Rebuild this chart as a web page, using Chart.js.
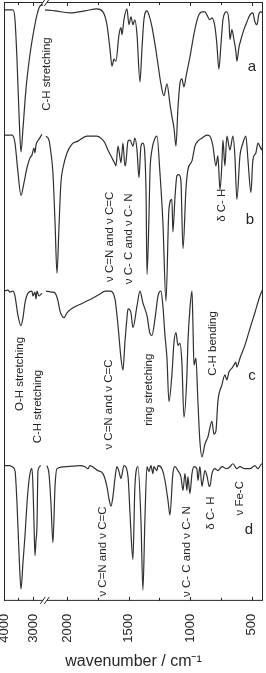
<!DOCTYPE html>
<html>
<head>
<meta charset="utf-8">
<script src="https://cdn.jsdelivr.net/npm/chart.js@4.4.1/dist/chart.umd.min.js"></script>
<style>
  html, body { margin: 0; padding: 0; background: #fff; }
  canvas { display: block; }
</style>
</head>
<body>
<canvas id="myChart" width="266" height="673"></canvas>
<script>
// IR spectra a-d, wavenumber (cm-1) and offset transmittance (a.u.)
const wnA = [4000, 3690, 3621, 3552, 3483, 3414, 3345, 3241, 3103, 2966, 2862, 2759, 2655,
  2178, 2097, 1976, 1854, 1757, 1708, 1676, 1651, 1635, 1619, 1603, 1578, 1562, 1554, 1538, 1514, 1497, 1481, 1465, 1449,
  1432, 1408, 1392, 1376, 1351, 1335, 1311, 1286, 1262, 1238, 1214, 1189, 1165, 1149, 1132, 1116, 1100, 1084, 1068, 1051,
  1035, 1019, 1003, 978, 954, 930, 905, 881, 865, 841, 824, 800, 784, 768, 751, 735, 719, 703, 686, 678, 662, 646, 630,
  622, 605, 589, 565, 540, 516, 492, 476, 459, 443, 427, 411];
const trA = [59.9, 59.9, 58.9, 54.9, 49.4, 45.5, 47.9, 51.9, 55.4, 57.9, 59.4, 60.3, 60.4,
  59.9, 59.8, 59.6, 59.8, 60.0, 59.7, 58.4, 55.9, 54.2, 54.9, 54.7, 57.4, 58.1, 57.4, 58.9, 60.0, 58.4, 59.2, 58.4, 58.9,
  57.4, 52.6, 55.9, 58.9, 59.8, 59.4, 58.2, 56.4, 54.4, 52.4, 51.2, 52.4, 50.4, 49.1, 47.9, 46.1, 49.9, 52.4, 52.9, 52.1,
  53.1, 54.1, 55.1, 56.9, 58.4, 59.4, 59.7, 59.7, 59.4, 58.9, 59.1, 58.2, 56.4, 53.9, 56.4, 58.9, 59.6, 59.7, 58.7, 56.9,
  57.9, 56.9, 55.7, 54.7, 56.1, 56.9, 57.9, 58.7, 59.4, 59.6, 58.7, 58.4, 59.5, 59.7, 59.6];

const wnB = [4000, 3724, 3621, 3517, 3414, 3310, 3207, 3103, 3034, 2966, 2931, 2897, 2793, 2690,
  2170, 2146, 2130, 2114, 2097, 2081, 2065, 2049, 2032, 2000, 1959, 1911, 1838, 1757, 1716, 1692, 1668, 1643, 1627, 1611,
  1603, 1586, 1570, 1562, 1546, 1530, 1522, 1505, 1489, 1465, 1449, 1432, 1416, 1400, 1384, 1359, 1351, 1335, 1327, 1311,
  1286, 1270, 1246, 1222, 1197, 1173, 1149, 1141, 1124, 1108, 1092, 1076, 1059, 1035, 1019, 986, 962, 938, 905, 865,
  841, 816, 792, 776, 759, 743, 735, 719, 703, 678, 654, 638, 622, 597, 573, 549, 532, 508, 492, 468, 451, 419, 411];
const trB = [47.2, 47.2, 46.4, 43.4, 41.1, 42.4, 43.9, 44.9, 45.2, 45.9, 45.4, 46.2, 46.8, 47.3,
  47.1, 46.7, 45.4, 43.4, 38.4, 33.2, 37.9, 42.4, 43.9, 45.4, 46.3, 46.6, 47.1, 47.1, 46.8, 46.4, 45.7, 45.1, 44.7, 44.3,
  44.1, 46.1, 44.9, 44.4, 46.4, 44.1, 44.4, 46.6, 46.7, 46.1, 46.9, 45.7, 42.9, 46.1, 46.4, 41.7, 33.1, 38.9, 43.4, 45.7,
  46.9, 47.1, 43.4, 38.4, 30.4, 39.7, 40.7, 37.4, 40.9, 43.1, 43.2, 42.6, 35.7, 41.7, 43.7, 44.6, 46.1, 46.6, 46.9, 47.2,
  47.1, 46.1, 44.1, 45.1, 41.7, 44.4, 46.7, 44.1, 47.1, 45.7, 47.1, 45.1, 40.7, 45.1, 46.4, 47.1, 44.7, 41.4, 44.7, 45.4,
  46.4, 45.7, 46.7];

const wnC = [4000, 3862, 3793, 3690, 3621, 3517, 3414, 3345, 3276, 3172, 3034, 3000, 2931, 2897, 2862, 2793, 2690,
  2170, 2122, 2097, 2073, 2057, 2041, 2024, 2000, 1951, 1870, 1789, 1732, 1692, 1651, 1611, 1586, 1562, 1546, 1530, 1514,
  1505, 1481, 1465, 1432, 1408, 1384, 1351, 1327, 1311, 1286, 1262, 1238, 1222, 1205, 1189, 1173, 1149, 1132, 1116, 1100,
  1084, 1068, 1051, 1027, 1019, 1003, 986, 978, 970, 954, 938, 922, 905, 881, 857, 824, 808, 792, 776, 743,
  719, 703, 686, 662, 646, 630, 622, 597, 557, 516, 476, 435, 411];
const trC = [31.4, 31.5, 31.3, 31.4, 30.9, 28.9, 27.9, 28.7, 30.2, 31.2, 31.4, 30.9, 31.3, 30.6, 31.4, 30.9, 31.2,
  31.4, 31.3, 31.2, 30.4, 29.4, 28.9, 28.7, 29.2, 29.7, 30.2, 30.7, 31.1, 31.4, 31.4, 30.6, 27.9, 24.6, 23.4, 26.2, 28.6,
  29.6, 29.2, 27.7, 29.9, 31.4, 30.2, 28.9, 27.1, 26.9, 28.6, 30.9, 31.4, 29.9, 26.9, 24.6, 20.2, 22.9, 26.2, 27.2, 25.9,
  26.1, 24.2, 18.6, 22.9, 26.2, 29.6, 31.4, 27.9, 23.9, 24.6, 20.2, 16.2, 14.6, 15.9, 16.6, 18.2, 16.9, 17.2, 20.2, 21.9,
  22.9, 22.4, 23.2, 23.6, 23.9, 24.2, 23.7, 24.6, 25.9, 27.6, 29.2, 30.9, 31.6];

const wnD = [4000, 3793, 3724, 3621, 3552, 3483, 3414, 3345, 3276, 3207, 3138, 3069, 3034, 3000, 2966, 2931, 2897, 2862, 2828, 2724,
  2162, 2146, 2130, 2114, 2097, 2081, 2000, 1895, 1854, 1830, 1814, 1749, 1708, 1676, 1660, 1643, 1627, 1611, 1595, 1578,
  1562, 1538, 1505, 1489, 1481, 1465, 1449, 1424, 1400, 1384, 1368, 1351, 1335, 1319, 1303, 1295, 1270, 1262, 1230, 1205,
  1181, 1165, 1141, 1124, 1100, 1076, 1059, 1043, 1027, 1019, 1003, 986, 970, 946, 938, 922, 905, 897, 881, 865,
  849, 841, 824, 800, 776, 743, 703, 678, 654, 622, 597, 557, 516, 476, 451, 419, 411];
const trD = [13.7, 13.7, 13.6, 13.2, 9.9, 4.9, 1.2, 3.9, 6.6, 9.9, 12.2, 13.3, 13.4, 11.6, 7.9, 4.6, 6.1, 7.6, 13.2, 13.7,
  13.7, 12.9, 9.9, 5.9, 11.6, 13.4, 13.6, 13.7, 13.6, 13.4, 13.7, 13.2, 12.9, 11.6, 10.4, 9.6, 10.6, 12.4, 13.6, 13.1,
  12.4, 13.7, 12.6, 8.9, 6.9, 4.2, 11.6, 13.6, 8.2, 1.1, 8.2, 13.6, 13.1, 13.7, 12.9, 13.6, 13.2, 13.7, 13.4, 12.2,
  10.2, 8.7, 12.9, 13.6, 13.2, 12.6, 11.2, 12.9, 11.2, 12.6, 10.9, 12.9, 13.6, 13.4, 12.2, 13.6, 11.6, 12.1, 13.2, 12.7,
  11.7, 11.6, 12.9, 13.4, 13.2, 13.6, 13.4, 13.6, 13.9, 13.4, 13.6, 13.4, 13.4, 13.7, 13.4, 13.9, 13.8];

const tickWavenumbers = [4000, 3000, 2000, 1500, 1000, 500];
const tickLabels = ['4000', '3000', '2000', '1500', '1000', '500'];
const minorWavenumbers = [3500, 1750, 1250, 750];

// band assignments, placed at (wavenumber, transmittance)
const notes = [
  { text: 'C-H stretching', wn: 2162, t: 53.4 },
  { text: 'ν C=N and ν C=C', wn: 1651, t: 36.9 },
  { text: 'ν C- C and ν C- N', wn: 1497, t: 36.7 },
  { text: 'δ C- H', wn: 743, t: 40.1 },
  { text: 'O-H stretching', wn: 3448, t: 23.0 },
  { text: 'C-H stretching', wn: 2828, t: 19.7 },
  { text: 'ν C=N and ν C=C', wn: 1660, t: 19.9 },
  { text: 'ring stretching', wn: 1335, t: 21.4 },
  { text: 'C-H bending', wn: 816, t: 26.1 },
  { text: 'ν C=N and ν C=C', wn: 1708, t: 5.0 },
  { text: 'ν C- C and ν C- N', wn: 1027, t: 5.0 },
  { text: 'δ C- H', wn: 832, t: 8.9 },
  { text: 'ν Fe-C', wn: 597, t: 10.4 }
];
const letters = [
  { text: 'a', wn: 500, t: 54.1 },
  { text: 'b', wn: 516, t: 38.6 },
  { text: 'c', wn: 500, t: 22.8 },
  { text: 'd', wn: 524, t: 7.2 }
];

// broken wavenumber axis: 4000-2590 compressed, 2180-410 normal
const BREAK_HI = 2590, BREAK_LO = 2180;
function pos(w) {
  if (w >= BREAK_HI) return (4000 - w) * 0.029;
  return 63 + (2000 - w) * 0.12333;
}

function buildPoints(wn, t) {
  let pts = [];
  for (let i = 0; i < wn.length; i++) {
    if (i > 0 && wn[i - 1] >= BREAK_HI && wn[i] <= BREAK_LO) {
      pts.push({ x: pos(BREAK_HI), y: null });
    }
    pts.push({ x: pos(wn[i]), y: t[i] });
  }
  return pts;
}

const FONT = '"Liberation Sans", Arial, Helvetica, sans-serif';
const INK = '#262626';

const decorations = {
  id: 'decorations',
  afterDatasetsDraw(chart) {
    let ctx = chart.ctx;
    let area = chart.chartArea;
    let x = chart.scales.x;
    let y = chart.scales.y;
    ctx.save();

    ctx.strokeStyle = INK;
    ctx.lineWidth = 1;
    ctx.strokeRect(area.left + 0.5, area.top + 0.5, area.right - area.left - 1, area.bottom - area.top - 1);

    // inward tick marks on top and bottom
    function tick(w, len) {
      let px = Math.round(x.getPixelForValue(pos(w))) + 0.5;
      ctx.beginPath();
      ctx.moveTo(px, area.bottom);
      ctx.lineTo(px, area.bottom - len);
      ctx.moveTo(px, area.top);
      ctx.lineTo(px, area.top + len);
      ctx.stroke();
    }
    tickWavenumbers.forEach(w => tick(w, 4));
    minorWavenumbers.forEach(w => tick(w, 3));

    // axis break marks
    let bx = x.getPixelForValue((pos(BREAK_HI) + pos(BREAK_LO)) / 2);
    [area.top + 0.5, area.bottom - 0.5].forEach(by => {
      ctx.fillStyle = '#fff';
      ctx.fillRect(bx - 2, by - 1.5, 4, 3);
      ctx.beginPath();
      [-2, 2].forEach(off => {
        ctx.moveTo(bx + off - 2.5, by + 3.5);
        ctx.lineTo(bx + off + 2.5, by - 3.5);
      });
      ctx.stroke();
    });

    // rotated band labels
    ctx.fillStyle = INK;
    ctx.textAlign = 'center';
    ctx.textBaseline = 'middle';
    ctx.font = '11.5px ' + FONT;
    notes.forEach(n => {
      ctx.save();
      ctx.translate(x.getPixelForValue(pos(n.wn)), y.getPixelForValue(n.t));
      ctx.rotate(-Math.PI / 2);
      ctx.fillText(n.text, 0, 0);
      ctx.restore();
    });

    ctx.font = '15px ' + FONT;
    letters.forEach(l => {
      ctx.fillText(l.text, x.getPixelForValue(pos(l.wn)), y.getPixelForValue(l.t));
    });
    ctx.restore();
  }
};

let series = [[wnA, trA], [wnB, trB], [wnC, trC], [wnD, trD]];

let ctx = document.getElementById('myChart').getContext('2d');
let myChart = new Chart(ctx, {
  type: 'line',
  data: {
    datasets: series.map(s => ({
      data: buildPoints(s[0], s[1]),
      borderColor: '#303030',
      borderWidth: 1.2,
      pointRadius: 0,
      cubicInterpolationMode: 'monotone',
      spanGaps: false
    }))
  },
  options: {
    responsive: false,
    animation: false,
    devicePixelRatio: 1,
    layout: { padding: { left: 4, right: 3, top: 2, bottom: 2 } },
    plugins: { legend: { display: false }, tooltip: { enabled: false } },
    scales: {
      x: {
        type: 'linear',
        min: pos(4000),
        max: pos(410),
        grid: { display: false },
        border: { display: false },
        afterBuildTicks: axis => {
          axis.ticks = tickWavenumbers.map(w => ({ value: pos(w) }));
        },
        afterFit: axis => {
          axis.paddingLeft = 0;
          axis.paddingRight = 0;
        },
        ticks: {
          autoSkip: false,
          minRotation: 90,
          maxRotation: 90,
          padding: 5,
          color: INK,
          font: { size: 13, family: FONT },
          callback: (value, index) => tickLabels[index]
        },
        title: {
          display: true,
          text: 'wavenumber / cm⁻¹',
          color: INK,
          font: { size: 16, family: FONT },
          padding: { top: 4, bottom: 0 }
        }
      },
      y: {
        display: false,
        min: 0,
        max: 60.7
      }
    }
  },
  plugins: [decorations]
});
</script>
</body>
</html>
